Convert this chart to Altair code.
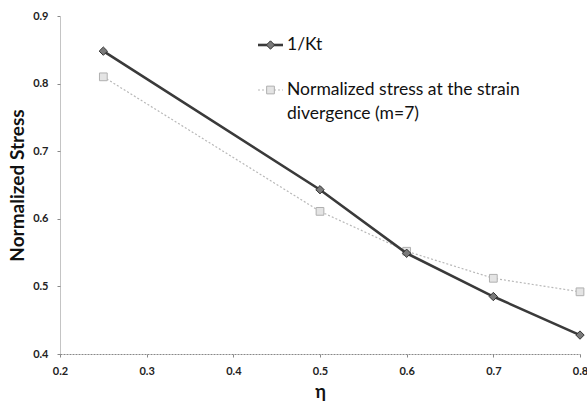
import altair as alt
import pandas as pd

# Data
eta = [0.25, 0.5, 0.6, 0.7, 0.8]
inv_kt = [0.848, 0.643, 0.549, 0.485, 0.428]
stress_m7 = [0.810, 0.611, 0.552, 0.512, 0.492]

series_kt = "1/Kt"
series_m7 = "Normalized stress at the strain divergence (m=7)"

df = pd.DataFrame(
    {"eta": eta * 2,
     "value": inv_kt + stress_m7,
     "series": [series_kt] * len(eta) + [series_m7] * len(eta)}
)

FONT = "Lato"
W, H = 520, 338

x_enc = alt.X(
    "eta:Q",
    scale=alt.Scale(domain=[0.2, 0.8], nice=False, zero=False),
    axis=alt.Axis(
        title="η", values=[0.2, 0.3, 0.4, 0.5, 0.6, 0.7, 0.8], format=".1f",
        titleFontSize=18, titleFont=FONT, titleFontWeight="bold", titleColor="#111",
        titlePadding=7, labelFont=FONT, labelFontSize=11, labelFontWeight="bold",
        labelColor="#222", labelPadding=8, tickSize=3, tickColor="#888",
        domainColor="#888", domainDash=[2, 1], grid=False, labelFlush=False,
    ),
)
y_enc = alt.Y(
    "value:Q",
    scale=alt.Scale(domain=[0.4, 0.9], nice=False, zero=False),
    axis=alt.Axis(
        title="Normalized Stress", values=[0.4, 0.5, 0.6, 0.7, 0.8, 0.9], format=".1f",
        titleFontSize=19, titleFont=FONT, titleFontWeight="bold", titleColor="#111",
        titlePadding=5, labelFont=FONT, labelFontSize=11, labelFontWeight="bold",
        labelColor="#222", labelPadding=9, tickSize=3, tickColor="#888",
        domainColor="#888", domainDash=[1, 1], grid=False, labelFlush=False,
    ),
)

kt = df[df.series == series_kt]
m7 = df[df.series == series_m7]

m7_line = alt.Chart(m7).mark_line(color="#b8b8b8", strokeWidth=1.2, strokeDash=[2, 2]).encode(x=x_enc, y=y_enc)
m7_pts = alt.Chart(m7).mark_point(shape="square", size=60, filled=True, fill="#e4e4e4",
                                  stroke="#b0b0b0", strokeWidth=1, opacity=1).encode(x="eta:Q", y="value:Q")
kt_line = alt.Chart(kt).mark_line(color="#3a3a3a", strokeWidth=2.6).encode(x="eta:Q", y="value:Q")
kt_pts = alt.Chart(kt).mark_point(shape="diamond", size=70, filled=True, fill="#7a7a7a",
                                  stroke="#333", strokeWidth=1, opacity=1).encode(x="eta:Q", y="value:Q")

# Legend drawn in-plot
leg_x0, leg_x1, leg_tx = 198, 223, 227
leg = pd.DataFrame({"row": [0]})
kt_leg_line = alt.Chart(leg).mark_rule(color="#3a3a3a", strokeWidth=2.6).encode(
    x=alt.value(leg_x0), x2=alt.value(leg_x1), y=alt.value(29))
kt_leg_pt = alt.Chart(leg).mark_point(shape="diamond", size=70, filled=True, fill="#7a7a7a",
                                      stroke="#333", strokeWidth=1, opacity=1).encode(
    x=alt.value((leg_x0 + leg_x1) / 2), y=alt.value(29))
kt_leg_txt = alt.Chart(leg).mark_text(text=series_kt, align="left", baseline="middle",
                                      font=FONT, fontSize=17.5, color="#111").encode(
    x=alt.value(leg_tx), y=alt.value(29))
m7_leg_line = alt.Chart(leg).mark_rule(color="#b8b8b8", strokeWidth=1.2, strokeDash=[2, 2]).encode(
    x=alt.value(leg_x0), x2=alt.value(leg_x1), y=alt.value(74))
m7_leg_pt = alt.Chart(leg).mark_point(shape="square", size=60, filled=True, fill="#e4e4e4",
                                      stroke="#b0b0b0", strokeWidth=1, opacity=1).encode(
    x=alt.value((leg_x0 + leg_x1) / 2), y=alt.value(74))
m7_leg_txt = alt.Chart(leg).mark_text(text=["Normalized stress at the strain", "divergence (m=7)"],
                                      align="left", baseline="middle", lineHeight=24,
                                      font=FONT, fontSize=17.5, color="#111").encode(
    x=alt.value(leg_tx), y=alt.value(74))

chart = alt.layer(
    m7_line, m7_pts, kt_line, kt_pts,
    kt_leg_line, kt_leg_pt, kt_leg_txt, m7_leg_line, m7_leg_pt, m7_leg_txt,
).properties(
    width=W, height=H,
    autosize=alt.AutoSizeParams(type="none"),
    padding={"left": 60, "top": 16, "right": 7, "bottom": 54},
    background="white",
).configure_view(stroke=None)

chart.save("out.html", embed_options={"renderer": "svg", "actions": False})
